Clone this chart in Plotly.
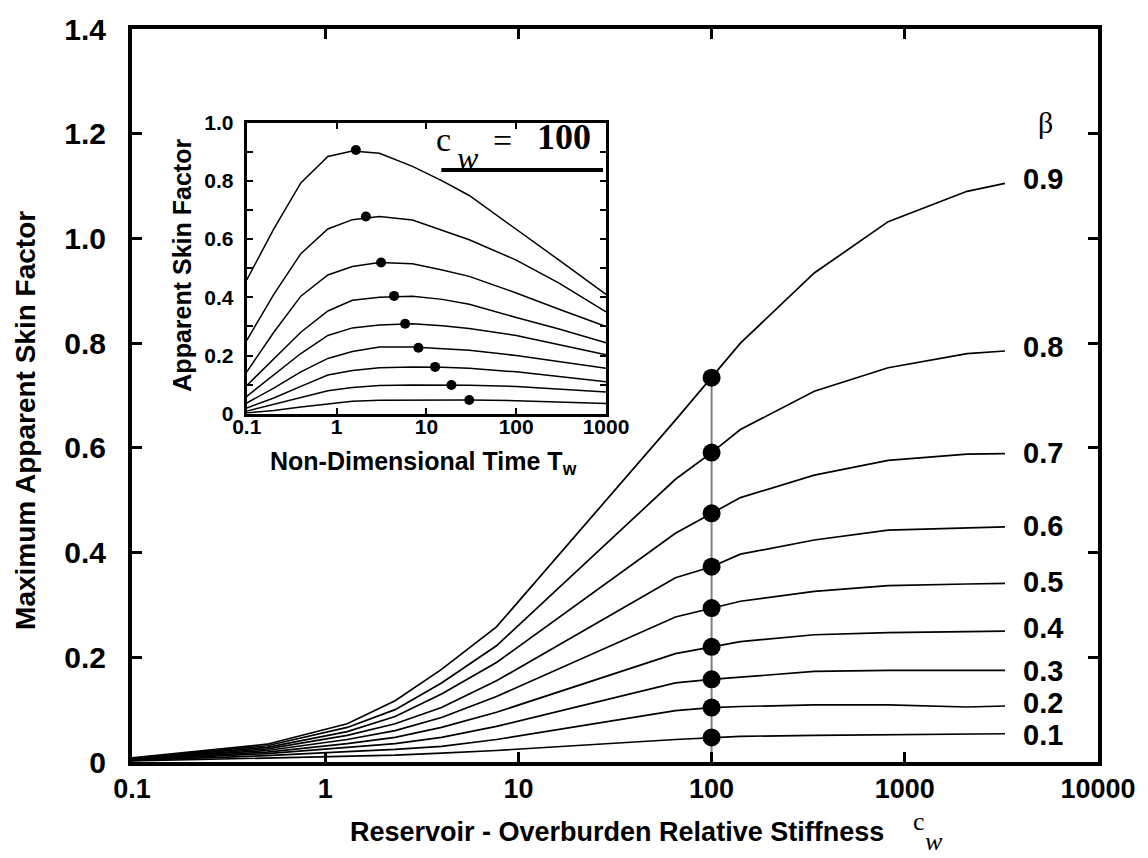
import plotly.graph_objects as go

# ---------------- data ----------------
# main chart: maximum apparent skin factor vs c_w, one curve per beta
cw = [0.1, 0.5, 1.3, 2.3, 4.0, 7.7, 65, 100, 141, 340, 820, 2100, 3300]
betas = ["0.9", "0.8", "0.7", "0.6", "0.5", "0.4", "0.3", "0.2", "0.1"]
s_09 = [0.008, 0.034, 0.073, 0.117, 0.177, 0.258, 0.653, 0.734, 0.800, 0.934, 1.032, 1.090, 1.105]
s_08 = [0.007, 0.031, 0.066, 0.100, 0.151, 0.222, 0.540, 0.591, 0.635, 0.708, 0.753, 0.780, 0.785]
s_07 = [0.006, 0.028, 0.058, 0.087, 0.130, 0.190, 0.437, 0.475, 0.505, 0.548, 0.576, 0.588, 0.589]
s_06 = [0.005, 0.025, 0.051, 0.073, 0.104, 0.155, 0.352, 0.373, 0.397, 0.424, 0.443, 0.448, 0.449]
s_05 = [0.005, 0.022, 0.043, 0.060, 0.085, 0.125, 0.277, 0.294, 0.307, 0.326, 0.337, 0.340, 0.341]
s_04 = [0.004, 0.019, 0.035, 0.047, 0.066, 0.095, 0.207, 0.220, 0.230, 0.243, 0.247, 0.249, 0.250]
s_03 = [0.004, 0.016, 0.028, 0.035, 0.047, 0.068, 0.151, 0.158, 0.162, 0.173, 0.175, 0.175, 0.175]
s_02 = [0.003, 0.012, 0.020, 0.024, 0.030, 0.043, 0.098, 0.104, 0.106, 0.109, 0.109, 0.105, 0.107]
s_01 = [0.002, 0.008, 0.012, 0.013, 0.017, 0.022, 0.043, 0.047, 0.049, 0.051, 0.052, 0.054, 0.054]
main_series = [s_09, s_08, s_07, s_06, s_05, s_04, s_03, s_02, s_01]
cw_mark = 100
label_y = [1.113, 0.792, 0.591, 0.451, 0.344, 0.255, 0.173, 0.112, 0.051]

main_yticks = [0, 0.2, 0.4, 0.6, 0.8, 1.0, 1.2, 1.4]
main_yticktext = ["0", "0.2", "0.4", "0.6", "0.8", "1.0", "1.2", "1.4"]
main_xticks = [0.1, 1, 10, 100, 1000, 10000]
main_xticktext = ["0.1", "1", "10", "100", "1000", "10000"]

# inset: apparent skin factor vs non-dimensional time, c_w = 100
tw = [0.1, 0.2, 0.4, 0.8, 1.5, 3, 7, 15, 30, 100, 300, 1000]
a_09 = [0.460, 0.635, 0.793, 0.884, 0.903, 0.895, 0.850, 0.800, 0.750, 0.635, 0.528, 0.410]
a_08 = [0.252, 0.410, 0.550, 0.635, 0.667, 0.678, 0.666, 0.630, 0.598, 0.528, 0.449, 0.350]
a_07 = [0.144, 0.280, 0.404, 0.477, 0.506, 0.520, 0.515, 0.494, 0.472, 0.415, 0.359, 0.300]
a_06 = [0.097, 0.190, 0.280, 0.353, 0.390, 0.400, 0.404, 0.393, 0.376, 0.331, 0.291, 0.244]
a_05 = [0.060, 0.133, 0.207, 0.269, 0.295, 0.305, 0.309, 0.302, 0.293, 0.269, 0.237, 0.203]
a_04 = [0.037, 0.088, 0.144, 0.190, 0.214, 0.229, 0.229, 0.223, 0.218, 0.200, 0.178, 0.156]
a_03 = [0.020, 0.054, 0.094, 0.133, 0.149, 0.158, 0.161, 0.160, 0.156, 0.144, 0.128, 0.110]
a_02 = [0.009, 0.032, 0.054, 0.079, 0.090, 0.097, 0.099, 0.099, 0.098, 0.094, 0.085, 0.075]
a_01 = [0.003, 0.011, 0.023, 0.034, 0.043, 0.046, 0.047, 0.047, 0.047, 0.045, 0.041, 0.035]
inset_series = [a_09, a_08, a_07, a_06, a_05, a_04, a_03, a_02, a_01]
peak_tw = [1.64, 2.12, 3.13, 4.37, 5.8, 8.15, 12.5, 19, 30]
peak_s = [0.906, 0.678, 0.520, 0.405, 0.309, 0.227, 0.161, 0.099, 0.047]

inset_yticks = [0, 0.2, 0.4, 0.6, 0.8, 1.0]
inset_yticktext = ["0", "0.2", "0.4", "0.6", "0.8", "1.0"]
inset_xticks = [0.1, 1, 10, 100, 1000]
inset_xticktext = ["0.1", "1", "10", "100", "1000"]

# ---------------- layout geometry (pixels) ----------------
W, H = 1148, 858
L, R, T, B = 132, 1100, 19, 762          # main plot box
IL, IR, IT, IB = 247, 607, 114, 409      # inset plot box


def px(x):
    return (x - L) / (R - L)


def py(y):
    return (B - y) / (B - T)


SANS = "Liberation Sans, Arial, sans-serif"
SERIF = "Liberation Serif, Times New Roman, serif"
BOLD = dict(family=SANS, color="black", weight="bold")

fig = go.Figure()

# main curves
for name, ys in zip(betas, main_series):
    fig.add_trace(go.Scatter(x=cw, y=ys, mode="lines", name=name,
                             line=dict(color="black", width=1.7),
                             showlegend=False, hoverinfo="skip"))

mark_vals = [ys[cw.index(cw_mark)] for ys in main_series]
fig.add_trace(go.Scatter(x=[cw_mark, cw_mark], y=[0, max(mark_vals)], mode="lines",
                         line=dict(color="#808080", width=2), showlegend=False))
fig.add_trace(go.Scatter(x=[cw_mark] * len(mark_vals), y=mark_vals, mode="markers",
                         marker=dict(color="black", size=18, symbol="circle"),
                         showlegend=False))

# inset curves
for name, ys in zip(betas, inset_series):
    fig.add_trace(go.Scatter(x=tw, y=ys, mode="lines", xaxis="x2", yaxis="y2",
                             line=dict(color="black", width=1.5),
                             showlegend=False, hoverinfo="skip"))
fig.add_trace(go.Scatter(x=peak_tw, y=peak_s, mode="markers", xaxis="x2", yaxis="y2",
                         marker=dict(color="black", size=10), showlegend=False))

axis_common = dict(showgrid=False, zeroline=False, showline=True, linecolor="black",
                   ticks="inside", tickcolor="black", mirror="allticks")

fig.update_layout(
    width=W, height=H, autosize=False,
    margin=dict(l=L, r=W - R, t=T, b=H - B, pad=0),
    paper_bgcolor="white", plot_bgcolor="white",
    xaxis=dict(type="log", range=[-1, 4], tickvals=main_xticks, ticktext=main_xticktext,
               linewidth=4, ticklen=10, tickwidth=3, ticklabelstandoff=0,
               tickfont=dict(size=27, **BOLD), **axis_common),
    yaxis=dict(range=[0, 1.4], tickvals=main_yticks, ticktext=main_yticktext,
               linewidth=4, ticklen=10, tickwidth=3, ticklabelstandoff=16,
               tickfont=dict(size=30, **BOLD), **axis_common),
    xaxis2=dict(type="log", range=[-1, 3], domain=[px(IL), px(IR)], anchor="y2",
                tickvals=inset_xticks, ticktext=inset_xticktext,
                linewidth=3, ticklen=6, tickwidth=2, ticklabelstandoff=-8,
                tickfont=dict(size=21, **BOLD), **axis_common),
    yaxis2=dict(range=[0, 1.0], domain=[py(IB), py(IT)], anchor="x2",
                tickvals=inset_yticks, ticktext=inset_yticktext,
                minor=dict(dtick=0.1, ticks="inside", ticklen=6, tickwidth=2, tickcolor="black"),
                linewidth=3, ticklen=6, tickwidth=2, ticklabelstandoff=6,
                tickfont=dict(size=21, **BOLD), **axis_common),
)

ann = []
# beta labels
for name, yv in zip(betas, label_y):
    ann.append(dict(x=px(1023), y=yv, xref="paper", yref="y", text=name, showarrow=False,
                    xanchor="left", yanchor="middle", font=dict(size=29, **BOLD)))
ann.append(dict(x=px(1047), y=py(114), xref="paper", yref="paper", text="β", showarrow=False,
                xanchor="center", yanchor="middle", font=dict(size=30, family=SERIF, color="black")))
# axis titles
ann.append(dict(x=px(618), y=py(833), xref="paper", yref="paper",
                text="Reservoir - Overburden Relative Stiffness", showarrow=False,
                xanchor="center", yanchor="middle", font=dict(size=27, **BOLD)))
ann.append(dict(x=px(913), y=py(822), xref="paper", yref="paper", text="c", showarrow=False,
                xanchor="left", yanchor="middle", font=dict(size=26, family=SERIF, color="black")))
ann.append(dict(x=px(925), y=py(843), xref="paper", yref="paper", text="<i>w</i>", showarrow=False,
                xanchor="left", yanchor="middle", font=dict(size=26, family=SERIF, color="black")))
ann.append(dict(x=px(25), y=py(416), xref="paper", yref="paper",
                text="Maximum Apparent Skin Factor", showarrow=False, textangle=-90,
                xanchor="center", yanchor="middle", font=dict(size=28, **BOLD)))
# inset titles
ann.append(dict(x=px(182), y=py(258), xref="paper", yref="paper",
                text="Apparent Skin Factor", showarrow=False, textangle=-90,
                xanchor="center", yanchor="middle", font=dict(size=25, **BOLD)))
ann.append(dict(x=px(424), y=py(459), xref="paper", yref="paper",
                text="Non-Dimensional Time T<sub>w</sub>", showarrow=False,
                xanchor="center", yanchor="middle", font=dict(size=25, **BOLD)))
# c_w = 100 label
ann.append(dict(x=px(435), y=py(131), xref="paper", yref="paper", text="c", showarrow=False,
                xanchor="left", yanchor="middle", font=dict(size=34, family=SERIF, color="black")))
ann.append(dict(x=px(456), y=py(150), xref="paper", yref="paper", text="<i>w</i>", showarrow=False,
                xanchor="left", yanchor="middle", font=dict(size=32, family=SERIF, color="black")))
ann.append(dict(x=px(503), y=py(132), xref="paper", yref="paper", text="=", showarrow=False,
                xanchor="center", yanchor="middle", font=dict(size=34, family=SERIF, color="black")))
ann.append(dict(x=px(536), y=py(128), xref="paper", yref="paper", text="<b>100</b>", showarrow=False,
                xanchor="left", yanchor="middle", font=dict(size=36, family=SERIF, color="black")))
fig.update_layout(annotations=ann)

fig.add_shape(type="line", xref="paper", yref="paper", x0=px(442), x1=px(604), y0=py(162), y1=py(162),
              line=dict(color="black", width=4))

fig.write_html("out.html")
